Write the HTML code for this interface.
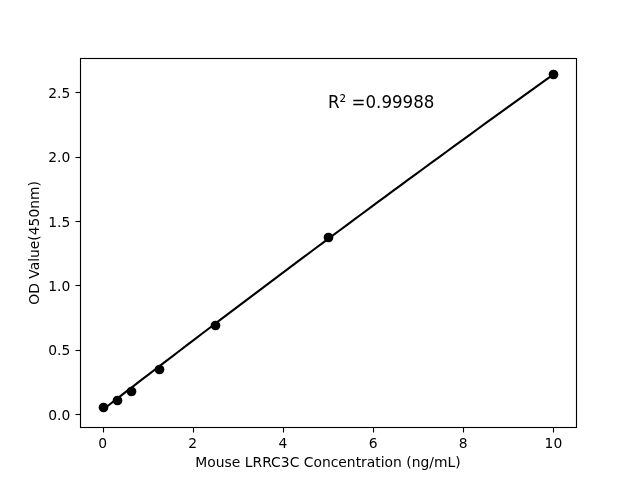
<!DOCTYPE html>
<html lang="en">
<head>
<meta charset="utf-8">
<title>Mouse LRRC3C standard curve</title>
<style>
html,body{margin:0;padding:0;background:#fff;}
body{width:640px;height:480px;overflow:hidden;}
svg{display:block;}
text{font-family:"DejaVu Sans","Liberation Sans",sans-serif;fill:#000;}
.t10{font-size:13.889px;}
.t12{font-size:16.667px;}
.ln{stroke:#000;stroke-width:1.111;fill:none;}
</style>
</head>
<body>
<svg width="640" height="480" viewBox="0 0 640 480">
<rect x="0" y="0" width="640" height="480" fill="#ffffff"/>

<g class="ln">
<line x1="103.5" y1="427.5" x2="103.5" y2="432.5"/>
<line x1="193.5" y1="427.5" x2="193.5" y2="432.5"/>
<line x1="283.5" y1="427.5" x2="283.5" y2="432.5"/>
<line x1="373.5" y1="427.5" x2="373.5" y2="432.5"/>
<line x1="463.5" y1="427.5" x2="463.5" y2="432.5"/>
<line x1="553.5" y1="427.5" x2="553.5" y2="432.5"/>
<line x1="75.5" y1="414.5" x2="80.5" y2="414.5"/>
<line x1="75.5" y1="350.5" x2="80.5" y2="350.5"/>
<line x1="75.5" y1="285.5" x2="80.5" y2="285.5"/>
<line x1="75.5" y1="221.5" x2="80.5" y2="221.5"/>
<line x1="75.5" y1="157.5" x2="80.5" y2="157.5"/>
<line x1="75.5" y1="92.5" x2="80.5" y2="92.5"/>
</g>
<g class="t10" text-anchor="middle">
<text x="102.55" y="448">0</text>
<text x="192.73" y="448">2</text>
<text x="282.91" y="448">4</text>
<text x="373.09" y="448">6</text>
<text x="463.27" y="448">8</text>
<text x="553.45" y="448">10</text>
<text x="328" y="467">Mouse LRRC3C Concentration (ng/mL)</text>
<text x="39" y="242.9" transform="rotate(-90 39 242.9)">OD Value(450nm)</text>
</g>
<g class="t10" text-anchor="end">
<text x="70.28" y="420">0.0</text>
<text x="70.28" y="355">0.5</text>
<text x="70.28" y="291">1.0</text>
<text x="70.28" y="227">1.5</text>
<text x="70.28" y="162">2.0</text>
<text x="70.28" y="98">2.5</text>
</g>
<path d="M102.55 409.84 L110.19 403.95 L117.83 398.06 L125.47 392.18 L133.12 386.31 L140.76 380.44 L148.40 374.59 L156.04 368.73 L163.69 362.89 L171.33 357.05 L178.97 351.22 L186.61 345.40 L194.26 339.59 L201.90 333.78 L209.54 327.98 L217.18 322.18 L224.83 316.40 L232.47 310.62 L240.11 304.85 L247.75 299.08 L255.40 293.32 L263.04 287.57 L270.68 281.83 L278.32 276.09 L285.97 270.37 L293.61 264.64 L301.25 258.93 L308.89 253.22 L316.54 247.52 L324.18 241.83 L331.82 236.14 L339.46 230.47 L347.11 224.79 L354.75 219.13 L362.39 213.47 L370.03 207.82 L377.68 202.18 L385.32 196.55 L392.96 190.92 L400.60 185.30 L408.25 179.68 L415.89 174.08 L423.53 168.48 L431.17 162.89 L438.82 157.30 L446.46 151.72 L454.10 146.15 L461.74 140.59 L469.39 135.04 L477.03 129.49 L484.67 123.94 L492.31 118.41 L499.96 112.88 L507.60 107.36 L515.24 101.85 L522.88 96.35 L530.53 90.85 L538.17 85.36 L545.81 79.87 L553.45 74.40" fill="none" stroke="#000" stroke-width="2.083" stroke-linecap="square" stroke-linejoin="round"/>
<g fill="#000">
<circle cx="103.5" cy="407.5" r="4.86"/>
<circle cx="117.5" cy="400.5" r="4.86"/>
<circle cx="131.5" cy="391.5" r="4.86"/>
<circle cx="159.5" cy="369.5" r="4.86"/>
<circle cx="215.5" cy="325.5" r="4.86"/>
<circle cx="328.5" cy="237.5" r="4.86"/>
<circle cx="553.5" cy="74.5" r="4.86"/>
</g>
<text class="t12" transform="translate(328 108) scale(1 1.07)" x="0" y="0">R² =0.99988</text>
<rect class="ln" x="80.5" y="58.5" width="496" height="369"/>
</svg>
</body>
</html>
